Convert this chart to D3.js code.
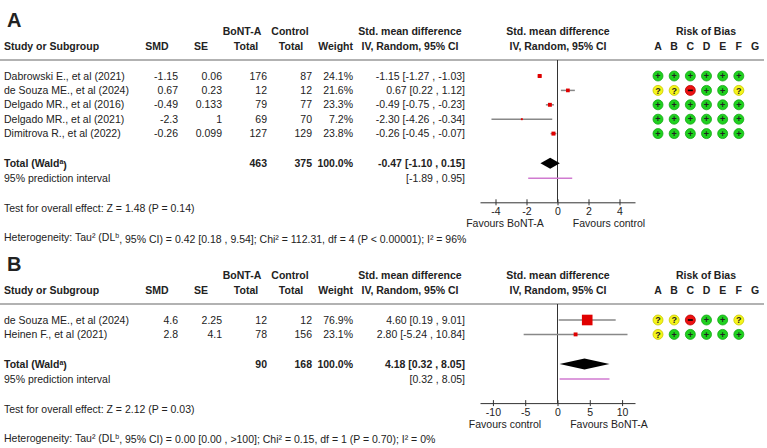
<!DOCTYPE html>
<html>
<head>
<script src="https://d3js.org/d3.v7.min.js"></script>
<style>
  body { margin: 0; background: #fff; }
  svg text { font-family: "Liberation Sans", Arial, sans-serif; fill: #222; }
</style>
</head>
<body>
<svg id="chart" width="767" height="448"></svg>
<script>
// ---- panel A data ----
const studiesA = ["Dabrowski E., et al (2021)", "de Souza ME., et al (2024)", "Delgado MR., et al (2016)", "Delgado MR., et al (2021)", "Dimitrova R., et al (2022)"];
const smdA = [-1.15, 0.67, -0.49, -2.3, -0.26];
const seA = [0.06, 0.23, 0.133, 1, 0.099];
const bontA = [176, 12, 79, 69, 127];
const controlA = [87, 12, 77, 70, 129];
const weightA = [24.1, 21.6, 23.3, 7.2, 23.8];
const ciLowA = [-1.27, 0.22, -0.75, -4.26, -0.45];
const ciHighA = [-1.03, 1.12, -0.23, -0.34, -0.07];
const riskA = ["++++++", "??-++?", "++++++", "++++++", "++++++"];
const pooledA = [-0.47, -1.10, 0.15];
const totalsA = [463, 375];
const predA = [-1.89, 0.95];
const ticksA = [-4, -2, 0, 2, 4];
const favoursA = ["Favours BoNT-A", "Favours control"];
const testA = "Test for overall effect: Z = 1.48 (P = 0.14)";
const hetA = ["Heterogeneity: Tau² (DL", "b", ", 95% CI) = 0.42 [0.18 , 9.54]; Chi² = 112.31, df = 4 (P < 0.00001); I² = 96%"];

// ---- panel B data ----
const studiesB = ["de Souza ME., et al (2024)", "Heinen F., et al (2021)"];
const smdB = [4.6, 2.8];
const seB = [2.25, 4.1];
const bontB = [12, 78];
const controlB = [12, 156];
const weightB = [76.9, 23.1];
const ciLowB = [0.19, -5.24];
const ciHighB = [9.01, 10.84];
const riskB = ["??-++?", "?+++++"];
const pooledB = [4.18, 0.32, 8.05];
const totalsB = [90, 168];
const predB = [0.32, 8.05];
const ticksB = [-10, -5, 0, 5, 10];
const favoursB = ["Favours control", "Favours BoNT-A"];
const testB = "Test for overall effect: Z = 2.12 (P = 0.03)";
const hetB = ["Heterogeneity: Tau² (DL", "b", ", 95% CI) = 0.00 [0.00 , >100]; Chi² = 0.15, df = 1 (P = 0.70); I² = 0%"];

const riskLetters = ["A", "B", "C", "D", "E", "F", "G"];

const svg = d3.select("#chart");
const fs = 10.5;
const f2 = v => v.toFixed(2);
const boxSize = d3.scaleLinear().domain([0, 100]).range([1, 13.5]);
const riskX = d3.scalePoint().domain(riskLetters).range([658, 755]);
const riskFill = { "+": "#1fd11f", "?": "#f5f51a", "-": "#ee1111" };
const riskStroke = { "+": "#17a817", "?": "#c8c800", "-": "#b80000" };

function txt(g, x, y, s, anchor, bold) {
  return g.append("text")
    .attr("x", x).attr("y", y).attr("dy", "0.35em")
    .attr("text-anchor", anchor || "start")
    .attr("font-size", fs)
    .attr("font-weight", bold ? "bold" : null)
    .text(s);
}

function drawPanel(top, label, p) {
  const g = svg.append("g").attr("transform", `translate(0,${top})`);
  const x = d3.scaleLinear().domain(p.domain).range([480, 635]);
  const rowY = i => 76 + i * 14.4;
  const lastY = rowY(p.studies.length - 1);
  const totY = lastY + 29.7;
  const predY = totY + 15;
  const axisY = totY + 39;
  const testY = totY + 45;
  const hetY = totY + 74;

  g.append("text").attr("x", 7).attr("y", 27)
    .attr("font-size", 20).attr("font-weight", "bold").attr("fill", "#000")
    .text(label);

  // headers
  txt(g, 242, 31, "BoNT-A", "middle", true);
  txt(g, 290, 31, "Control", "middle", true);
  txt(g, 410, 31, "Std. mean difference", "middle", true);
  txt(g, 558, 31, "Std. mean difference", "middle", true);
  txt(g, 706, 31, "Risk of Bias", "middle", true);
  txt(g, 4, 46, "Study or Subgroup", "start", true);
  txt(g, 157, 46, "SMD", "middle", true);
  txt(g, 201, 46, "SE", "middle", true);
  txt(g, 246, 46, "Total", "middle", true);
  txt(g, 291, 46, "Total", "middle", true);
  txt(g, 353, 46, "Weight", "end", true);
  txt(g, 410, 46, "IV, Random, 95% CI", "middle", true);
  txt(g, 558, 46, "IV, Random, 95% CI", "middle", true);
  riskLetters.forEach(l => txt(g, riskX(l), 46, l, "middle", true));

  g.append("line").attr("x1", 0).attr("x2", 764).attr("y1", 60).attr("y2", 60)
    .attr("stroke", "#999").attr("stroke-width", 1.5);

  // zero line
  g.append("line").attr("x1", x(0)).attr("x2", x(0)).attr("y1", 60).attr("y2", axisY)
    .attr("stroke", "#333").attr("stroke-width", 1);

  // study rows
  p.studies.forEach((s, i) => {
    const y = rowY(i);
    txt(g, 4, y, s);
    txt(g, 178, y, String(p.smd[i]), "end");
    txt(g, 222, y, String(p.se[i]), "end");
    txt(g, 267, y, p.bont[i], "end");
    txt(g, 312, y, p.control[i], "end");
    txt(g, 353, y, p.weight[i].toFixed(1) + "%", "end");
    txt(g, 465, y, `${f2(p.smd[i])} [${f2(p.lo[i])} , ${f2(p.hi[i])}]`, "end");

    g.append("line").attr("x1", x(p.lo[i])).attr("x2", x(p.hi[i]))
      .attr("y1", y).attr("y2", y).attr("stroke", "#888").attr("stroke-width", 1.5);
    const b = boxSize(p.weight[i]);
    g.append("rect").attr("x", x(p.smd[i]) - b / 2).attr("y", y - b / 2)
      .attr("width", b).attr("height", b).attr("fill", "#e00000");

    p.risk[i].split("").forEach((r, j) => {
      const cx = riskX(riskLetters[j]);
      g.append("circle").attr("cx", cx).attr("cy", y).attr("r", 5)
        .attr("fill", riskFill[r]).attr("stroke", riskStroke[r]).attr("stroke-width", 0.8);
      if (r === "-") {
        g.append("rect").attr("x", cx - 2.5).attr("y", y - 0.8)
          .attr("width", 5).attr("height", 1.6).attr("fill", "#000");
      } else {
        g.append("text").attr("x", cx).attr("y", y).attr("dy", "0.35em")
          .attr("text-anchor", "middle").attr("font-size", 9).attr("font-weight", "bold")
          .attr("fill", "#000")
          .text(r);
      }
    });
  });

  // total row
  const tot = txt(g, 4, totY, "Total (Wald", "start", true);
  tot.append("tspan").attr("font-size", 7).attr("dy", "-0.45em").text("a");
  tot.append("tspan").attr("dy", "0.45em").text(")");
  txt(g, 267, totY, p.totals[0], "end", true);
  txt(g, 312, totY, p.totals[1], "end", true);
  txt(g, 353, totY, "100.0%", "end", true);
  txt(g, 465, totY, `${f2(p.pooled[0])} [${f2(p.pooled[1])} , ${f2(p.pooled[2])}]`, "end", true);

  const dh = 5.5;
  g.append("path")
    .attr("d", `M${x(p.pooled[1])},${totY} L${x(p.pooled[0])},${totY - dh} L${x(p.pooled[2])},${totY} L${x(p.pooled[0])},${totY + dh} Z`)
    .attr("fill", "#000");

  txt(g, 4, predY, "95% prediction interval");
  txt(g, 465, predY, `[${f2(p.pred[0])} , ${f2(p.pred[1])}]`, "end");
  g.append("line").attr("x1", x(p.pred[0])).attr("x2", x(p.pred[1]))
    .attr("y1", predY).attr("y2", predY).attr("stroke", "#d07ad0").attr("stroke-width", 1.5);

  // axis
  const ax = g.append("g").attr("transform", `translate(0,${axisY})`)
    .call(d3.axisBottom(x).tickValues(p.ticks).tickFormat(d => String(d))
      .tickSizeOuter(0).tickSizeInner(3).tickPadding(2));
  ax.select(".domain").attr("stroke", "#333");
  ax.selectAll(".tick line").attr("y1", -3).attr("stroke", "#333");
  ax.selectAll(".tick text").attr("font-size", fs)
    .attr("font-family", "Liberation Sans, Arial, sans-serif").attr("fill", "#222");

  txt(g, 505, axisY + 21, p.favours[0], "middle");
  txt(g, 609, axisY + 21, p.favours[1], "middle");

  txt(g, 4, testY, p.test);
  const h = txt(g, 4, hetY, p.het[0]);
  h.append("tspan").attr("font-size", 7).attr("dy", "-0.45em").text(p.het[1]);
  h.append("tspan").attr("dy", "0.45em").text(p.het[2]);
}

drawPanel(0, "A", {
  studies: studiesA, smd: smdA, se: seA, bont: bontA, control: controlA, weight: weightA,
  lo: ciLowA, hi: ciHighA, risk: riskA, pooled: pooledA, totals: totalsA, pred: predA,
  domain: [-5, 5], ticks: ticksA, favours: favoursA, test: testA, het: hetA
});
drawPanel(244, "B", {
  studies: studiesB, smd: smdB, se: seB, bont: bontB, control: controlB, weight: weightB,
  lo: ciLowB, hi: ciHighB, risk: riskB, pooled: pooledB, totals: totalsB, pred: predB,
  domain: [-12, 12], ticks: ticksB, favours: favoursB, test: testB, het: hetB
});
</script>
</body>
</html>
